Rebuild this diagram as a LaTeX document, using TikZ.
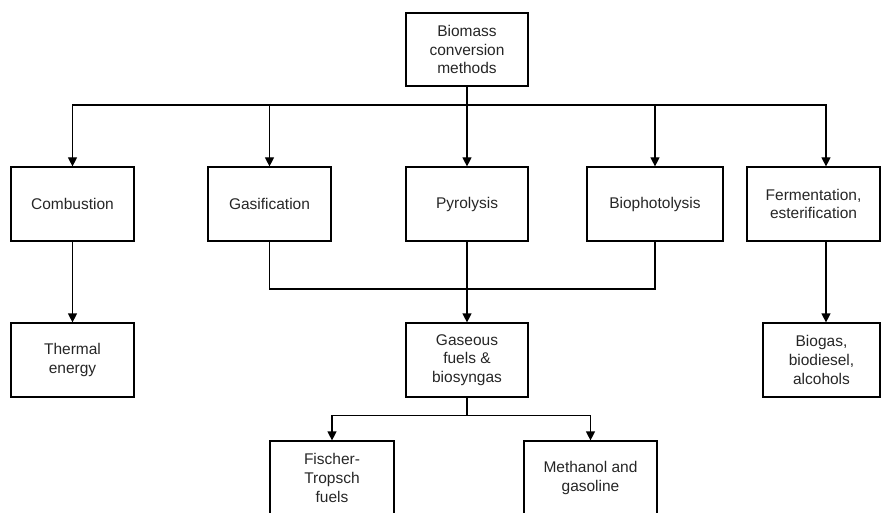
\documentclass[tikz,border=0pt]{standalone}
\usepackage{fontspec}
\setmainfont{Liberation Sans}
\usetikzlibrary{arrows.meta}
\tikzset{
  box/.style={draw, line width=1.2pt, align=center, inner sep=0pt,
    font=\fontsize{15.5pt}{18.6pt}\selectfont, text=black!85},
  line/.style={line width=1.2pt},
  arr/.style={line width=1.2pt, -{Triangle[length=9pt,width=9pt]}},
}
\begin{document}
\begin{tikzpicture}[x=1pt,y=-1pt]
\useasboundingbox (0,0) rectangle (881,513);
\clip (0,0) rectangle (881,513);
% nodes
\node[box, minimum width=122pt, minimum height=73pt] (top) at (467,49.5) {Biomass\\conversion\\methods};
\node[box, minimum width=123pt, minimum height=74pt] (comb) at (72.5,204) {Combustion};
\node[box, minimum width=123pt, minimum height=74pt] (gas) at (269.5,204) {Gasification};
\node[box, minimum width=122pt, minimum height=74pt] (pyro) at (467,204) {Pyrolysis};
\node[box, minimum width=136pt, minimum height=74pt] (bioph) at (655,204) {Biophotolysis};
\node[box, minimum width=133pt, minimum height=74pt] (ferm) at (813.5,204) {Fermentation,\\esterification};
\node[box, minimum width=123pt, minimum height=74pt] (therm) at (72.5,360) {Thermal\\energy};
\node[box, minimum width=122pt, minimum height=74pt] (gaseous) at (467,360) {Gaseous\\fuels \&\\biosyngas};
\node[box, minimum width=117pt, minimum height=74pt] (biogas) at (821.5,360) {Biogas,\\biodiesel,\\alcohols};
\node[box, minimum width=124pt, minimum height=74pt] (ft) at (332,478) {Fischer-\\Tropsch\\fuels};
\node[box, minimum width=133pt, minimum height=74pt] (meth) at (590.5,478) {Methanol and\\gasoline};
% connectors
\draw[line] (top.south) -- (top.south |- 0,105) coordinate (bus);
\draw[arr] (bus) -| (comb.north);
\draw[arr] (bus) -| (gas.north);
\draw[arr] (bus) -- (pyro.north);
\draw[arr] (bus) -| (bioph.north);
\draw[arr] (bus) -| ([xshift=12.5pt]ferm.north);
\draw[arr] (comb.south) -- (therm.north);
\draw[arr] ([xshift=12.5pt]ferm.south) -- ([xshift=4.5pt]biogas.north);
\coordinate (merge) at (467,289);
\draw[line] (gas.south) |- (merge);
\draw[line] (bioph.south) |- (merge);
\draw[arr] (pyro.south) -- (gaseous.north);
\draw[line] (gaseous.south) -- ++(0,18) coordinate (split);
\draw[arr] (split) -| (ft.north);
\draw[arr] (split) -| (meth.north);
\end{tikzpicture}
\end{document}
